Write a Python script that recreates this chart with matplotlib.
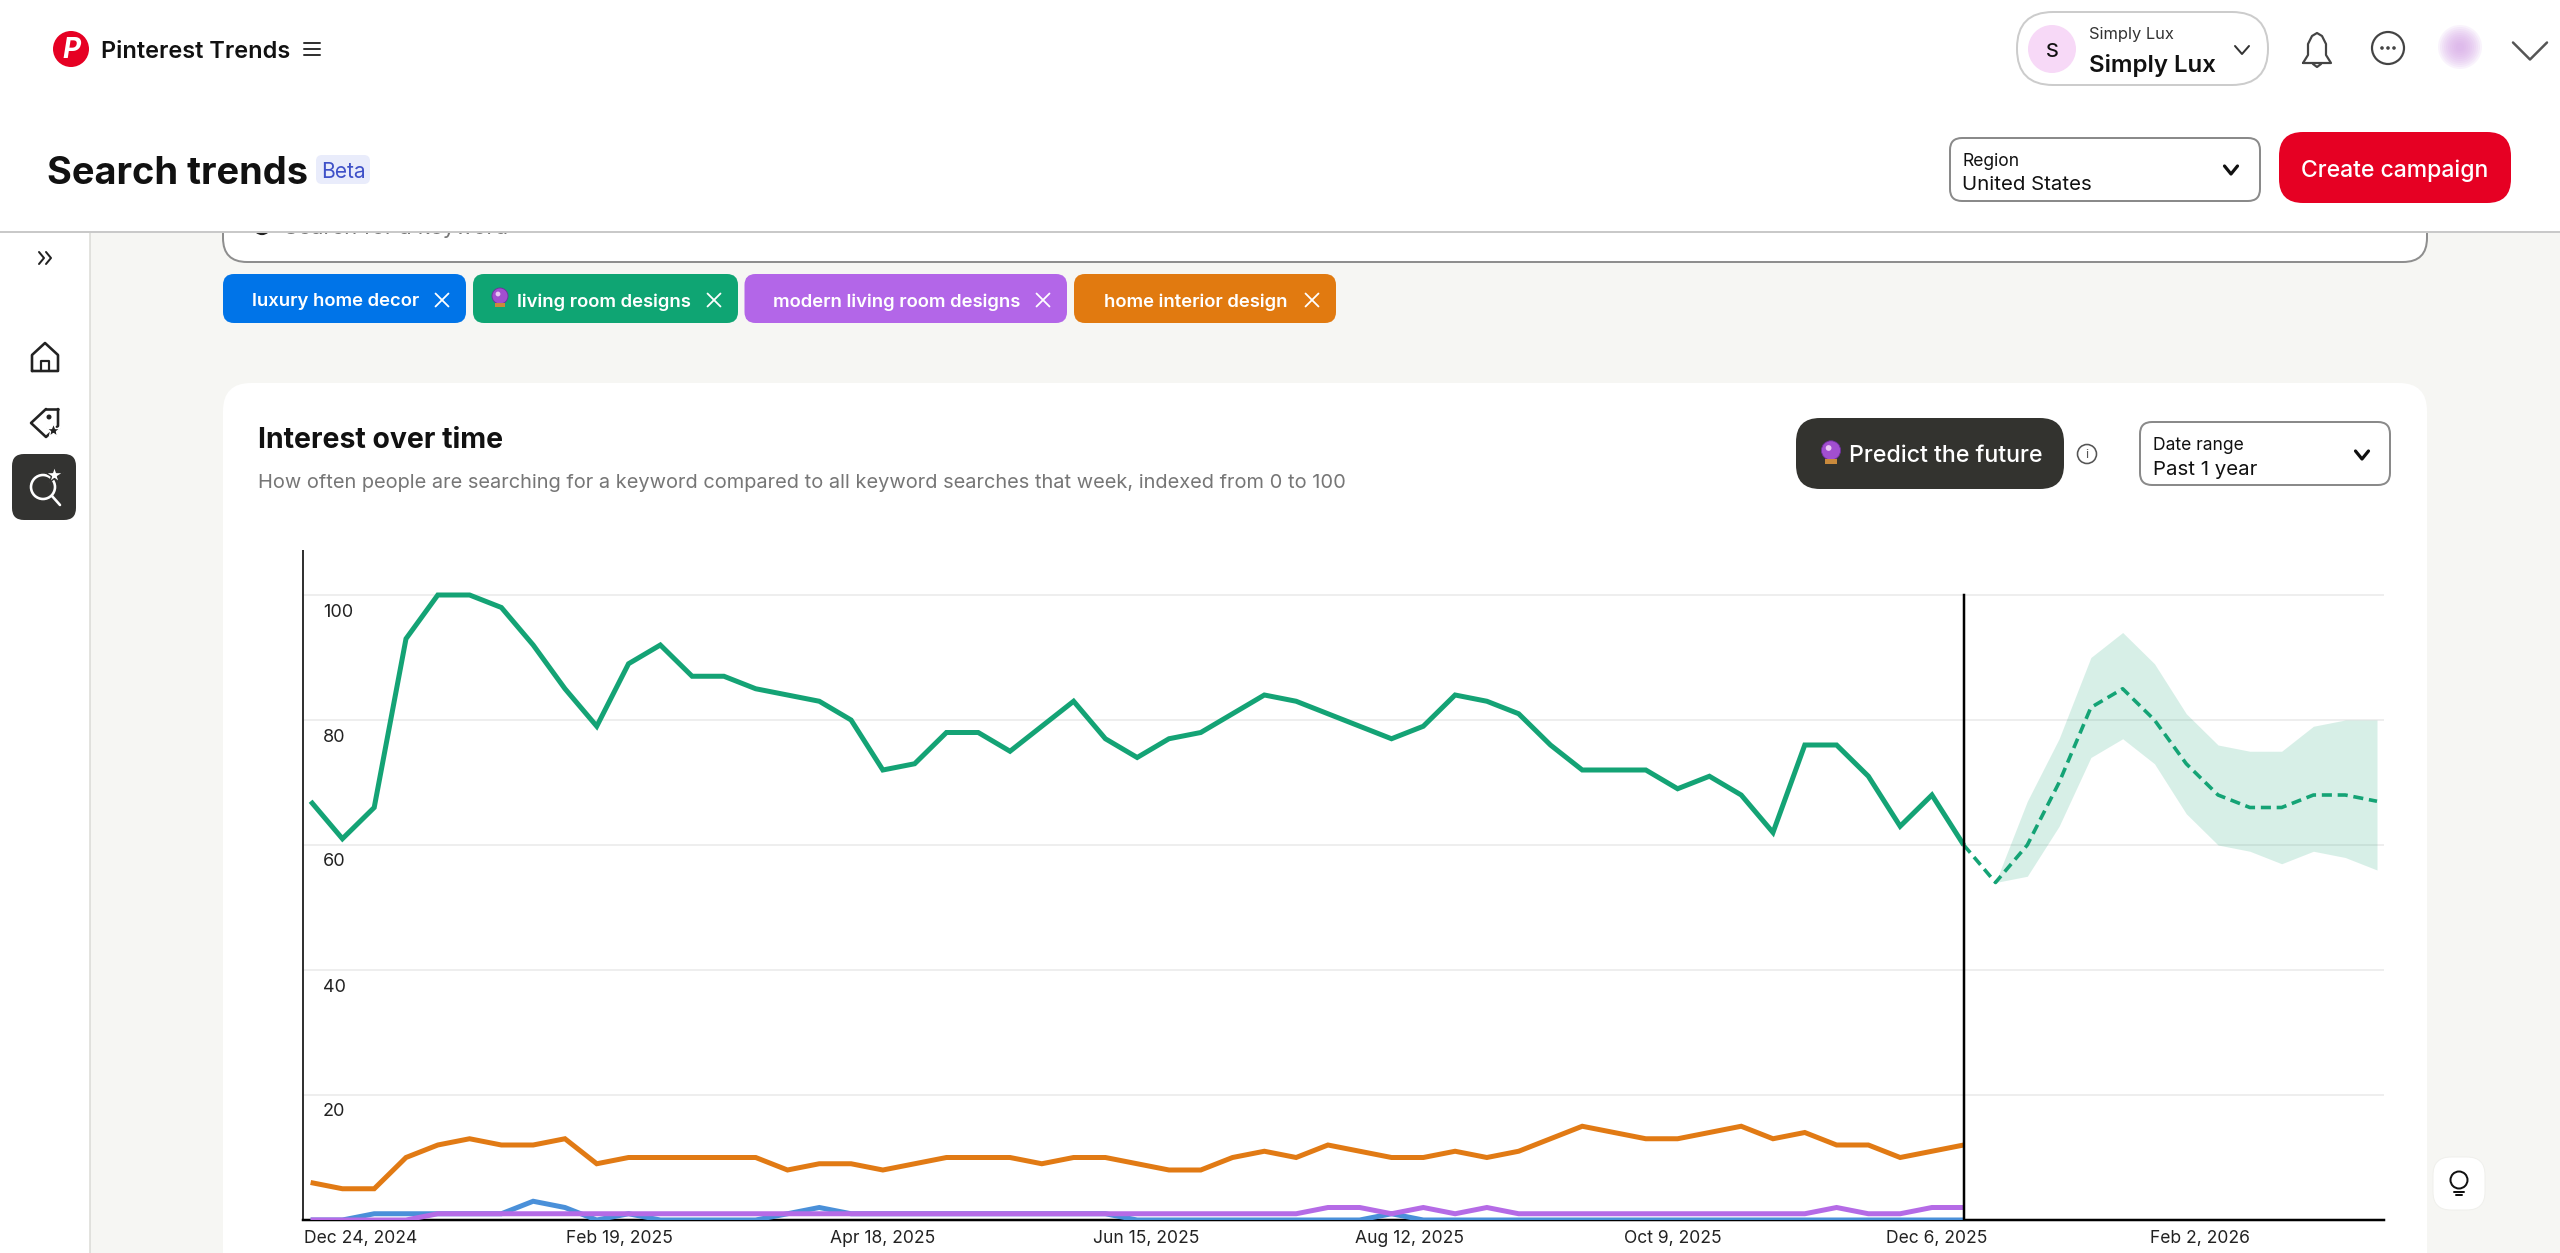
import matplotlib
matplotlib.use("Agg")
import matplotlib.pyplot as plt
import pandas as pd
from matplotlib.patches import FancyBboxPatch, Circle, Rectangle, Polygon

W, H = 2560, 1253
plt.rcParams['font.family'] = ['Inter', 'DejaVu Sans']

# ---------- data ----------
keywords = ["luxury home decor", "living room designs", "modern living room designs", "home interior design"]
first_week = "2024-12-13"
living_room = [67, 61, 66, 93, 100, 100, 98, 92, 85, 79, 89, 92, 87, 87, 85, 84, 83, 80, 72, 73, 78, 78, 75, 79, 83,
               77, 74, 77, 78, 81, 84, 83, 81, 79, 77, 79, 84, 83, 81, 76, 72, 72, 72, 69, 71, 68, 62, 76, 76, 71,
               63, 68, 60]
home_interior = [6, 5, 5, 10, 12, 13, 12, 12, 13, 9, 10, 10, 10, 10, 10, 8, 9, 9, 8, 9, 10, 10, 10, 9, 10,
                 10, 9, 8, 8, 10, 11, 10, 12, 11, 10, 10, 11, 10, 11, 13, 15, 14, 13, 13, 14, 15, 13, 14, 12, 12,
                 10, 11, 12]
luxury_home = [0, 0, 1, 1, 1, 1, 1, 3, 2, 0, 1, 0, 0, 0, 0, 1, 2, 1, 1, 1, 1, 1, 1, 1, 1,
               1, 0, 0, 0, 0, 0, 0, 0, 0, 1, 0, 0, 0, 0, 0, 0, 0, 0, 0, 0, 0, 0, 0, 0, 0,
               0, 0, 0]
modern_living = [0, 0, 0, 0, 1, 1, 1, 1, 1, 1, 1, 1, 1, 1, 1, 1, 1, 1, 1, 1, 1, 1, 1, 1, 1,
                 1, 1, 1, 1, 1, 1, 1, 2, 2, 1, 2, 1, 2, 1, 1, 1, 1, 1, 1, 1, 1, 1, 1, 2, 1,
                 1, 2, 2]
forecast_mid = [60, 54, 60, 70, 82, 85, 80, 73, 68, 66, 66, 68, 68, 67]
forecast_high = [54, 67, 77, 90, 94, 89, 81, 76, 75, 75, 79, 80, 80]
forecast_low = [54, 55, 63, 74, 77, 73, 65, 60, 59, 57, 59, 58, 56]
y_ticks = [20, 40, 60, 80, 100]
tick_dates = ["2024-12-24", "2025-02-19", "2025-04-18", "2025-06-15", "2025-08-12", "2025-10-09", "2025-12-06", "2026-02-02"]
tick_labels = ["Dec 24, 2024", "Feb 19, 2025", "Apr 18, 2025", "Jun 15, 2025", "Aug 12, 2025", "Oct 9, 2025", "Dec 6, 2025", "Feb 2, 2026"]

GREEN, ORANGE, BLUE, PURPLE = "#14A375", "#E17A14", "#4A90D9", "#B56BE6"

fig = plt.figure(figsize=(W / 100, H / 100), dpi=100, facecolor="#F6F6F3")

# ---------- page chrome in pixel coordinates ----------
ui = fig.add_axes([0, 0, 1, 1], zorder=0)
ui.set_xlim(0, W)
ui.set_ylim(H, 0)
ui.axis("off")
PX = 0.72  # points per pixel


def box(x0, y0, x1, y1, r, fc, ec="none", lw=1.5, z=2):
    p = FancyBboxPatch((x0 + r, y0 + r), x1 - x0 - 2 * r, y1 - y0 - 2 * r,
                       boxstyle=f"round,pad={r},rounding_size={r}", fc=fc, ec=ec, lw=lw * PX, zorder=z)
    ui.add_patch(p)
    return p


def txt(x, y, s, px, color="#111111", weight="normal", ha="left", z=6, family=None):
    kw = {"family": family} if family else {}
    return ui.text(x, y, s, fontsize=px * PX, color=color, fontweight=weight, ha=ha, va="center_baseline", zorder=z, **kw)


def stroke(xs, ys, color="#111111", lw=2.5, z=6):
    ui.plot(xs, ys, color=color, lw=lw * PX, zorder=z, solid_capstyle="round", solid_joinstyle="round")


def vee(cx, cy, w, h, color="#111111", lw=2.5):
    stroke([cx - w / 2, cx, cx + w / 2], [cy - h / 2, cy + h / 2, cy - h / 2], color, lw)


def cross(cx, cy, r=6.5):
    stroke([cx - r, cx + r], [cy - r, cy + r], "white", 1.8)
    stroke([cx - r, cx + r], [cy + r, cy - r], "white", 1.8)


def ball(cx, cy, s=1.0):
    ui.add_patch(Circle((cx, cy - 3 * s), 8 * s, fc="#A24FD0", ec="#6D2E9B", lw=0.6, zorder=7))
    ui.add_patch(Circle((cx - 2 * s, cy - 5 * s), 2.4 * s, fc="#EBC8F5", zorder=8))
    ui.add_patch(Rectangle((cx - 5 * s, cy + 4 * s), 10 * s, 4 * s, fc="#C98A3C", zorder=7))


# sidebar
ui.add_patch(Rectangle((0, 231), 90, H - 231, fc="white", ec="none", zorder=1))
ui.plot([90, 90], [231, H], color="#DADAD5", lw=1.5 * PX, zorder=2)
# search box (slides under the header)
box(223, 170, 2427, 262, 24, "white", "#8E8E8E", 2, z=2)
txt(284, 226, "Search for a keyword", 22, "#767676", z=3)
ui.add_patch(Circle((262, 226), 8, fc="none", ec="#222222", lw=1.6, zorder=3))
# header
ui.add_patch(Rectangle((0, 0), W, 231, fc="white", ec="none", zorder=4))
ui.plot([0, W], [231.5, 231.5], color="#C9C9C9", lw=2 * PX, zorder=5)

# chips
chips = [(223, 466, "#0074E8", 252, 442, 0), (473, 738, "#0FA573", 517, 714, 1),
         (744.5, 1067, "#B366E8", 773, 1043, 2), (1074, 1336, "#E17A10", 1104, 1312, 3)]
for x0, x1, c, tx, cx, k in chips:
    box(x0, 274, x1, 323, 11, c)
    txt(tx, 300, keywords[k], 18.5, "white", "semibold")
    cross(cx, 300)
ball(500, 299, 1.0)

# card
box(223, 383, 2427, 1320, 28, "white")
txt(258, 437, "Interest over time", 28.4, "#111111", "bold")
txt(258, 481, "How often people are searching for a keyword compared to all keyword searches that week, indexed from 0 to 100",
    20, "#767676")

# header left
ui.add_patch(Circle((71, 49), 18, fc="#E60023", zorder=6))
ui.text(71, 50, "P", color="white", fontsize=28 * PX, fontweight="bold", style="italic", ha="center", va="center", zorder=7)
txt(101, 50, "Pinterest Trends", 23.5, "#111111", "semibold")
for yy in (43, 49, 55):
    stroke([304, 320], [yy, yy], "#333333", 2)
txt(47, 170, "Search trends", 38, "#111111", "bold")
box(316, 155, 370, 184, 6, "#E9ECFB", z=6)
txt(343, 170, "Beta", 21, "#3F51C8", ha="center", z=7)

# account pill
box(2017, 12, 2268, 85, 36, "white", "#CCCCCC", 2, z=5)
ui.add_patch(Circle((2052, 49), 24, fc="#F7D9F7", zorder=6))
txt(2052, 50, "S", 20, "#111111", "medium", ha="center", z=7)
txt(2089, 33, "Simply Lux", 16.5, "#333333")
txt(2089, 63, "Simply Lux", 24, "#111111", "semibold")
vee(2242, 50, 14, 8, "#333333", 2)
# bell
stroke([2303, 2308, 2308, 2312, 2317, 2322, 2326, 2326, 2331, 2303],
       [63, 55, 44, 36, 33, 36, 44, 55, 63, 63], "#444444", 2.2)
stroke([2313, 2317, 2321], [64, 67, 64], "#444444", 2.2)
# chat
ui.add_patch(Circle((2388, 48), 16, fc="white", ec="#444444", lw=2.2 * PX, zorder=6))
for dx in (-6, 0, 6):
    ui.add_patch(Circle((2388 + dx, 48), 1.8, fc="#444444", zorder=7))
# blurred avatar
for r in range(22, 2, -2):
    ui.add_patch(Circle((2460, 47), r, fc="#D8A8E8", ec="none", alpha=0.13, zorder=6))
vee(2530, 51, 34, 17, "#555555", 2.5)

# region / campaign
box(1950, 138, 2260, 201, 12, "white", "#8A8A8A", 2, z=5)
txt(1962, 159, "Region", 17.5, "#111111")
txt(1962, 183, "United States", 20.5, "#111111")
vee(2231, 170, 13, 8, "#111111", 3.2)
box(2279, 132, 2511, 203, 24, "#E60023", z=5)
txt(2395, 168, "Create campaign", 23, "white", "medium", ha="center")

# predict / date range
box(1796, 418, 2064, 489, 24, "#33332F", z=5)
ball(1831, 454, 1.2)
txt(1849, 454, "Predict the future", 23.2, "white", "medium")
ui.add_patch(Circle((2087, 454), 9.5, fc="white", ec="#555555", lw=1.6 * PX, zorder=6))
txt(2087, 454, "i", 13, "#555555", ha="center", z=7)
box(2140, 422, 2390, 485, 12, "white", "#8A8A8A", 2, z=5)
txt(2153, 444, "Date range", 17.5, "#111111")
txt(2153, 468, "Past 1 year", 20.5, "#111111")
vee(2362, 455, 13, 8, "#111111", 3.2)

# sidebar icons
for dx in (0, 7):
    stroke([39 + dx, 44 + dx, 39 + dx], [252, 258, 264], "#222222", 2)
stroke([32, 32, 45, 58, 58, 32], [371, 355, 343, 355, 371, 371], "#222222", 2.6)
stroke([41, 41, 49, 49], [371, 361, 361, 371], "#222222", 2.2)
stroke([46, 31, 46, 58, 58], [409, 423, 437, 426, 409], "#222222", 2.6)
stroke([46, 58], [409, 409], "#222222", 2.6)
ui.add_patch(Circle((49, 417), 2.5, fc="#222222", zorder=6))
ui.plot([53], [430], marker="*", ms=10, color="#222222", mec="white", zorder=7)
box(12, 454, 76, 520, 12, "#333331", z=5)
ui.add_patch(Circle((43, 487), 12, fc="none", ec="white", lw=2.6 * PX, zorder=6))
stroke([52, 60], [496, 505], "white", 2.6)
ui.plot([54], [475], marker="*", ms=13, color="white", mec="#333331", zorder=7)

# help bulb
box(2433, 1157, 2485, 1210, 18, "white", "#F0F0EC", 1, z=5)
ui.add_patch(Circle((2459, 1180), 8.5, fc="white", ec="#111111", lw=2 * PX, zorder=6))
stroke([2454, 2464], [1192, 1192], "#111111", 2)
stroke([2456, 2462], [1195, 1195], "#111111", 2)

# ---------- chart ----------
L, R, T, B = 303, 2384, 551, 1220
ax = fig.add_axes([L / W, 1 - B / H, (R - L) / W, (B - T) / H], zorder=1)
ax.patch.set_alpha(0)

hist_dates = pd.date_range(first_week, periods=len(living_room), freq="7D")
fc_dates = pd.date_range(hist_dates[-1], periods=len(forecast_mid), freq="7D")
band_dates = fc_dates[1:]

ax.set_ylim(0, 107.04)
week = pd.Timedelta(days=7)
ax.set_xlim(hist_dates[0] - 0.24 * week, hist_dates[0] + 65.22 * week)

ax.set_yticks(y_ticks)
ax.set_yticklabels([])
ax.grid(axis="y", color="#EEEEEE", lw=2 * PX, zorder=1)
ax.set_axisbelow(True)
for v in y_ticks:
    ax.annotate(str(v), (0, v), xycoords=("axes fraction", "data"), xytext=(20 * PX, -15 * PX),
                textcoords="offset points", fontsize=18 * PX, color="#222222", ha="left", va="center_baseline")
ax.tick_params(axis="y", length=0)
ax.set_xticks(pd.to_datetime(tick_dates))
ax.set_xticklabels(tick_labels, fontsize=17.5 * PX, color="#222222")
ax.tick_params(axis="x", length=0, pad=7)

for s in ("top", "right"):
    ax.spines[s].set_visible(False)
ax.spines["left"].set_color("#333333")
ax.spines["left"].set_linewidth(2 * PX)
ax.spines["bottom"].set_color("#000000")
ax.spines["bottom"].set_linewidth(2.5 * PX)

ax.fill_between(band_dates, forecast_low, forecast_high, color=GREEN, alpha=0.17, lw=0, zorder=2)
line_kw = dict(lw=5 * PX, solid_joinstyle="miter", solid_capstyle="butt", zorder=3)
ax.plot(hist_dates, living_room, color=GREEN, **line_kw)
ax.plot(hist_dates, home_interior, color=ORANGE, **line_kw)
ax.plot(hist_dates, luxury_home, color=BLUE, **line_kw)
ax.plot(hist_dates, modern_living, color=PURPLE, **line_kw)
ax.plot(fc_dates, forecast_mid, color=GREEN, lw=3.6 * PX, linestyle=(0, (2.8, 1.6)), zorder=3)
ax.plot([hist_dates[-1], hist_dates[-1]], [0, 100], color="#000000", lw=2.5 * PX, zorder=4)

fig.savefig("out.png", dpi=100, facecolor=fig.get_facecolor())
